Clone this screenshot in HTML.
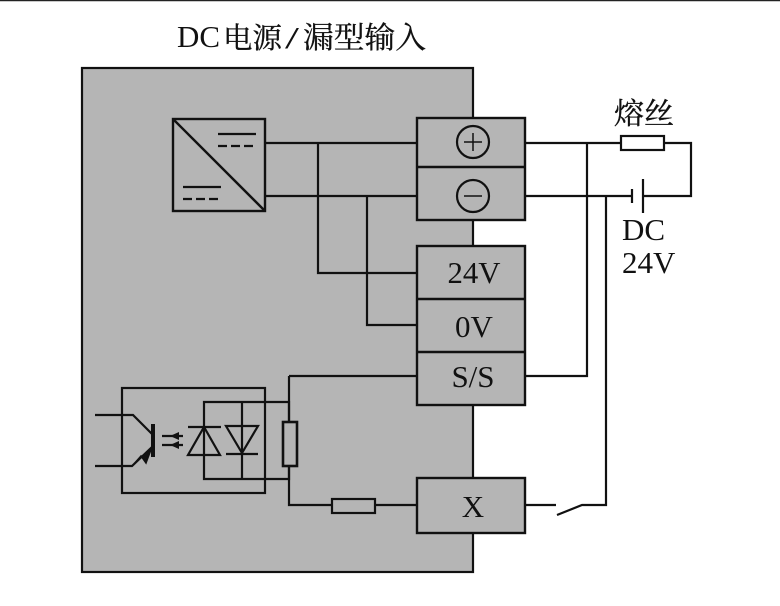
<!DOCTYPE html>
<html><head><meta charset="utf-8">
<style>
html,body{margin:0;padding:0;background:#fff}
svg{display:block}
text{font-family:"Liberation Serif","Noto Serif CJK SC",serif;fill:#111}
</style></head>
<body>
<svg width="780" height="606" viewBox="0 0 780 606" xmlns="http://www.w3.org/2000/svg">
<rect width="780" height="606" fill="#fff"/>
<line x1="0" y1="0.5" x2="780" y2="0.5" stroke="#222" stroke-width="1.5"/>
<rect x="82" y="68" width="391" height="504" fill="#b5b5b5" stroke="#111" stroke-width="2.2"/>

<text x="177" y="47" font-size="31" textLength="43" lengthAdjust="spacingAndGlyphs">DC</text>
<text x="223" y="48" font-size="29" textLength="59" lengthAdjust="spacingAndGlyphs" stroke="#111" stroke-width="0.3">电源</text>
<text x="285" y="48" font-size="31" textLength="14" lengthAdjust="spacingAndGlyphs">/</text>
<text x="303" y="48" font-size="30" textLength="123" lengthAdjust="spacingAndGlyphs" stroke="#111" stroke-width="0.3">漏型输入</text>
<text x="614" y="124" font-size="30" textLength="60" lengthAdjust="spacingAndGlyphs" stroke="#111" stroke-width="0.3">熔丝</text>

<g fill="#b5b5b5" stroke="#111" stroke-width="2.4">
<rect x="417" y="118" width="108" height="102"/>
<line x1="417" y1="167" x2="525" y2="167"/>
<rect x="417" y="246" width="108" height="159"/>
<line x1="417" y1="299" x2="525" y2="299"/>
<line x1="417" y1="352" x2="525" y2="352"/>
<rect x="417" y="478" width="108" height="55"/>
</g>

<g fill="none" stroke="#111" stroke-width="2.2">
<circle cx="473" cy="142" r="16"/>
<circle cx="473" cy="196" r="16"/>
<path d="M464 142H482M473 133V151M464 196H482" stroke-width="1.5"/>

<rect x="173" y="119" width="92" height="92" stroke-width="2.4"/>
<line x1="173" y1="119" x2="265" y2="211" stroke-width="2.4"/>
<path d="M218 134H256M183 187H221"/>
<path d="M218 146H256M183 199H221" stroke-dasharray="9 4"/>

<path d="M265 143H417M265 196H417M318 143V273H417M367 196V325H417"/>

<path d="M525 143H621M664 143H691V196H643M525 196H632M587 143V376H525M606 196V505H582L557 515M556 505H525"/>
<rect x="621" y="136" width="43" height="14" fill="#fff"/>
<path d="M632 189V203M643 179V213"/>

<rect x="122" y="388" width="143" height="105"/>
<path d="M204 402H289V479H204ZM242 402V479"/>
<path d="M289 376H417M289 376V422M289 466V505H332M375 505H417"/>
<rect x="283" y="422" width="14" height="44" fill="#b5b5b5" stroke-width="2.6"/>
<rect x="332" y="499" width="43" height="14" fill="#b5b5b5"/>

<path d="M95 415H133L152 434M95 466H132L152 447"/>
<path d="M153 424V457" stroke-width="4"/>
<path d="M162 436H183M162 445H183"/>
<path d="M188 427H221M188 455H220L204 427ZM226 426H258L242 453ZM226 454H258"/>
</g>
<path d="M133 465L152 447L146 463L141 456Z" fill="#111" stroke="#111" stroke-width="1.5"/>
<path d="M170 436L179 432V440ZM170 445L179 441V449Z" fill="#111"/>

<g font-size="31" text-anchor="middle">
<text x="474" y="283" textLength="53" lengthAdjust="spacingAndGlyphs">24V</text>
<text x="474" y="337">0V</text>
<text x="473" y="387">S/S</text>
<text x="473" y="517">X</text>
</g>
<text x="622" y="240" font-size="31">DC</text>
<text x="622" y="273" font-size="31">24V</text>
</svg>
</body></html>
